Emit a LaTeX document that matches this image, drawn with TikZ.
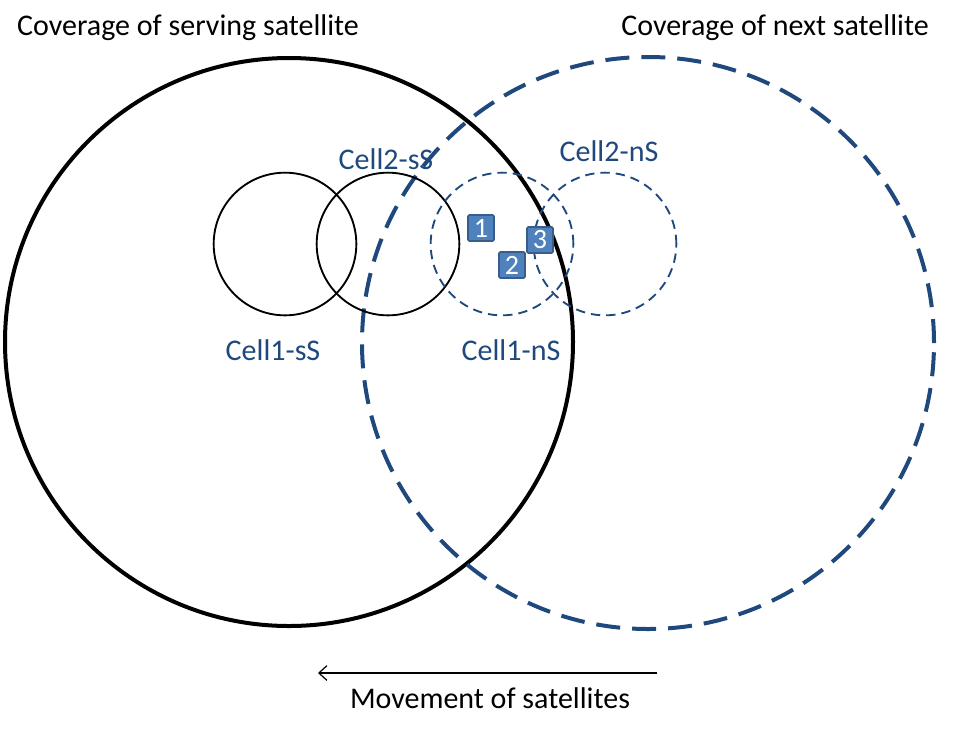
\documentclass[tikz,border=0pt]{standalone}
\usepackage{fontspec}
\setmainfont{Carlito}
\usetikzlibrary{arrows.meta}
\definecolor{navy}{HTML}{1F497D}
\definecolor{sqfill}{HTML}{4F81BD}
\definecolor{sqdraw}{HTML}{385D8A}
\tikzset{
  bigsolid/.style={draw=black, line width=3pt},
  bigdash/.style={draw=navy, line width=3pt, dash pattern=on 18pt off 9pt},
  cellsolid/.style={draw=black, line width=1.4pt},
  celldash/.style={draw=navy, line width=1.4pt, dash pattern=on 7pt off 4.5pt},
  title/.style={font=\fontsize{22.5}{25}\selectfont, text=black, inner sep=0pt},
  celllabel/.style={font=\fontsize{22.5}{25}\selectfont, text=navy, inner sep=0pt},
  ue/.style={draw=sqdraw, fill=sqfill, line width=1.2pt, rounded corners=1pt, minimum size=19.5pt, inner sep=0pt, text=white, font=\fontsize{21}{22}\selectfont},
}
\begin{document}
\begin{tikzpicture}[x=0.75pt, y=-0.75pt]
\useasboundingbox (0,0) rectangle (953,733);
% coverage areas
\node[bigsolid, circle, minimum size=426pt, inner sep=0pt] (covS) at (289,342) {};
\node[bigdash, circle, minimum size=429pt, inner sep=0pt] (covN) at (648,343) {};
% cells
\node[cellsolid, circle, minimum size=107pt, inner sep=0pt] (c1s) at (285,244) {};
\node[cellsolid, circle, minimum size=107pt, inner sep=0pt] (c2s) at (388,244) {};
\node[celldash, circle, minimum size=107pt, inner sep=0pt] (c1n) at (502,244) {};
\node[celldash, circle, minimum size=107pt, inner sep=0pt] (c2n) at (605,244) {};
% labels
\node[title] (tS) at (188,28) {Coverage of serving satellite};
\node[title] (tN) at (775,28) {Coverage of next satellite};
\node[celllabel] (l2s) at (386,159) {Cell2-sS};
\node[celllabel] (l2n) at (609,151) {Cell2-nS};
\node[celllabel] (l1s) at (273,350) {Cell1-sS};
\node[celllabel] (l1n) at (511,350) {Cell1-nS};
% UEs
\node[ue] (u1) at (481,228) {1};
\node[ue] (u2) at (512,265) {2};
\node[ue] (u3) at (540,240) {3};
% movement
\coordinate (mA) at (657,673);
\coordinate (mB) at (318,673);
\draw[line width=0.9pt, -{Straight Barb[length=6pt, width=11pt]}] (mA) -- (mB);
\node[title] (mv) at (490,698) {Movement of satellites};
\end{tikzpicture}
\end{document}
